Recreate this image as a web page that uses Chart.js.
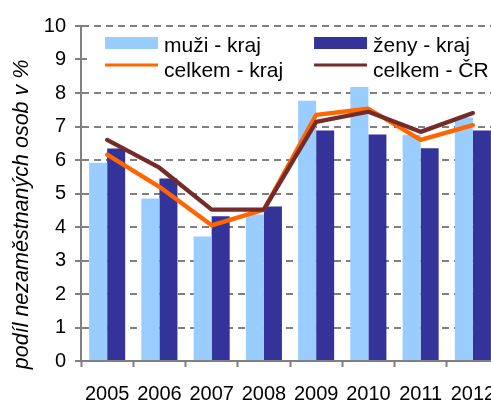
<!DOCTYPE html>
<html>
<head>
<meta charset="utf-8">
<script src="https://cdn.jsdelivr.net/npm/chart.js@4"></script>
<style>
html,body{margin:0;padding:0;background:#fff;overflow:hidden;width:491px;height:401px;}
#wrap{position:absolute;left:0;top:0;width:520px;height:421px;}
</style>
</head>
<body>
<div id="wrap"><canvas id="c" width="520" height="421"></canvas></div>
<script>
const years = ['2005','2006','2007','2008','2009','2010','2011','2012'];
const muziKraj = [5.92, 4.85, 3.72, 4.37, 7.77, 8.18, 6.75, 7.27];
const zenyKraj = [6.34, 5.45, 4.32, 4.61, 6.88, 6.76, 6.35, 6.88];
const celkemKraj = [6.16, 5.2, 4.05, 4.52, 7.35, 7.53, 6.6, 7.04];
const celkemCR = [6.6, 5.77, 4.52, 4.52, 7.14, 7.44, 6.84, 7.4];
const yTicks = [0,1,2,3,4,5,6,7,8,9,10];
const labels = ['muži - kraj','ženy - kraj','celkem - kraj','celkem - ČR'];
const yTitle = 'podíl nezaměstnaných osob v %';
const colors = ['#99CCFF','#333399','#FF6600','#752B2A'];

const FONT = "'Liberation Sans', Arial, sans-serif";

const boxLegend = {
  id: 'boxLegend',
  beforeDatasetsDraw(chart) {
    const {ctx, chartArea: a} = chart;
    ctx.save();
    ctx.fillStyle = '#ffffff';
    ctx.fillRect(a.left + 6, a.top + 4, a.right - a.left - 6, 57);
    const cols = [a.left + 24, a.left + 233];
    const ds = chart.data.datasets;
    ctx.font = '21px ' + FONT;
    ctx.textBaseline = 'alphabetic';
    [0,1,2,3].forEach((i) => {
      const d = ds[i];
      const col = cols[i % 2];
      const row = Math.floor(i / 2);
      if (d.type === 'line') {
        ctx.strokeStyle = d.borderColor;
        ctx.lineWidth = 3;
        ctx.beginPath();
        ctx.moveTo(col, a.top + 39);
        ctx.lineTo(col + 53, a.top + 39);
        ctx.stroke();
      } else {
        ctx.fillStyle = d.backgroundColor;
        ctx.fillRect(col, a.top + 11, 53, 12);
      }
      ctx.fillStyle = '#000';
      ctx.fillText(d.label, col + 59, a.top + 26 + row * 24.5);
    });
    ctx.restore();
  }
};

new Chart(document.getElementById('c'), {
  type: 'bar',
  data: {
    labels: years,
    datasets: [
      {label: labels[0], data: muziKraj, backgroundColor: colors[0], borderWidth: 0, order: 3,
       categoryPercentage: 0.69, barPercentage: 1.0},
      {label: labels[1], data: zenyKraj, backgroundColor: colors[1], borderWidth: 0, order: 4,
       categoryPercentage: 0.69, barPercentage: 1.0},
      {type: 'line', label: labels[2], data: celkemKraj, borderColor: colors[2], backgroundColor: colors[2],
       borderWidth: 4.3, pointRadius: 0, tension: 0, order: 2, borderCapStyle: 'round', borderJoinStyle: 'round'},
      {type: 'line', label: labels[3], data: celkemCR, borderColor: colors[3], backgroundColor: colors[3],
       borderWidth: 4.3, pointRadius: 0, tension: 0, order: 1, borderCapStyle: 'round', borderJoinStyle: 'round'}
    ]
  },
  options: {
    responsive: false,
    animation: false,
    devicePixelRatio: 1,
    layout: {padding: {left: 4, right: 21, top: 26, bottom: 0}},
    plugins: {legend: {display: false}, tooltip: {enabled: false}, title: {display: false}},
    scales: {
      x: {
        offset: true,
        grid: {display: true, drawOnChartArea: false, drawTicks: true, offset: true,
               tickLength: 6, tickColor: '#808080', tickWidth: 2, color: '#808080'},
        border: {display: true, color: '#808080', width: 2},
        ticks: {color: '#000', padding: 15, font: {family: FONT, size: 20}, maxRotation: 0, autoSkip: false}
      },
      y: {
        min: 0, max: 10,
        afterBuildTicks(scale) { scale.ticks = yTicks.map(v => ({value: v})); },
        grid: {color: '#808080', lineWidth: 2, tickLength: 6, tickColor: '#808080', tickWidth: 2},
        border: {display: true, color: '#808080', width: 2, dash: [7, 5]},
        ticks: {color: '#000', padding: 9, font: {family: FONT, size: 20}},
        title: {display: true, text: yTitle + '\u00A0'.repeat(7), color: '#000',
                font: {family: FONT, size: 21.5, style: 'italic'}, padding: {top: 5, bottom: 0}}
      }
    }
  },
  plugins: [boxLegend]
});
</script>
</body>
</html>
